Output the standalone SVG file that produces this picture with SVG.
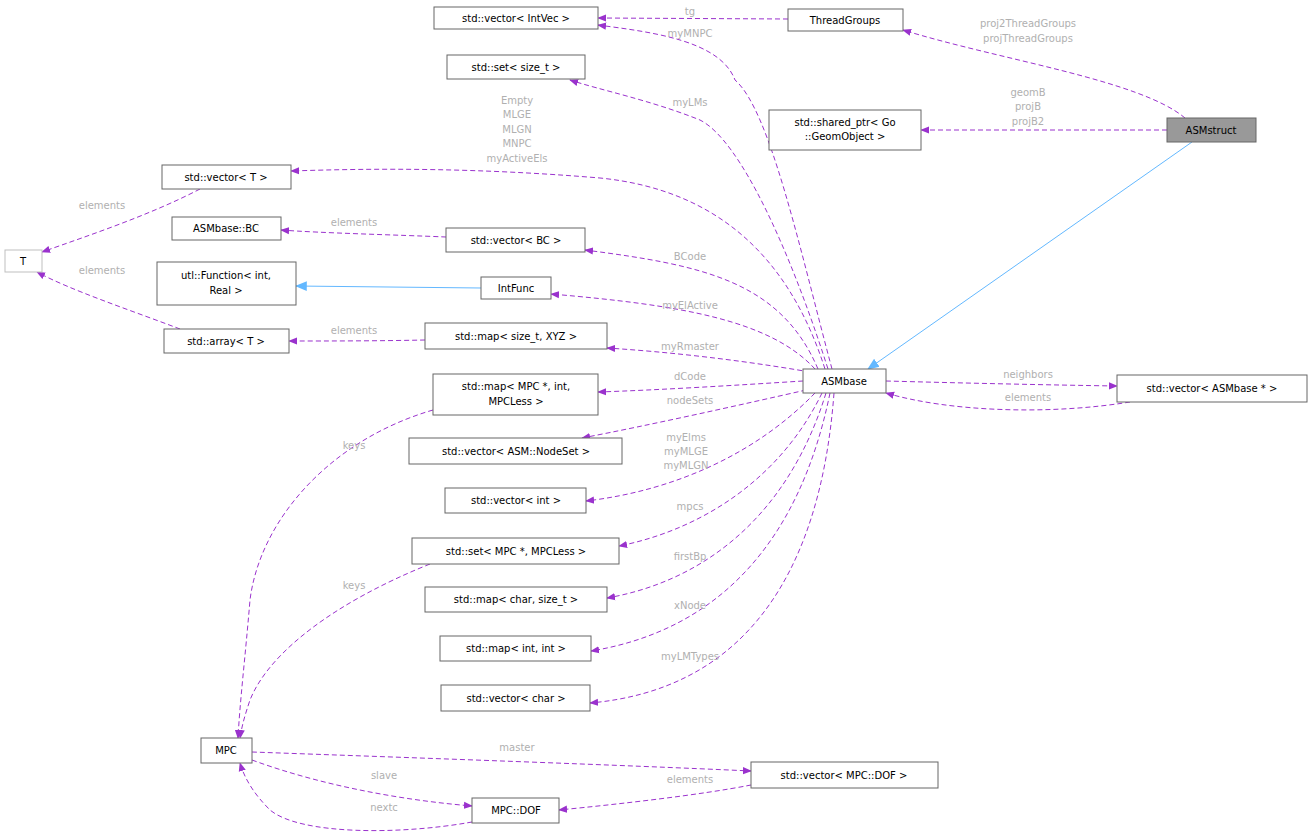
<svg xmlns="http://www.w3.org/2000/svg" width="1313" height="833" viewBox="0 0 1313 833">
<style>
text{font-family:"DejaVu Sans",sans-serif;font-size:10px;text-anchor:middle}
.n rect{fill:#fff;stroke:#666;stroke-width:1}
.n text{fill:#000}
.e path{fill:none;stroke:#9a32cd;stroke-dasharray:5,3}
.e text{fill:#b0b0b0}
.i{fill:none;stroke:#63b8ff}
</style>
<defs>
<marker id="a" viewBox="0 0 10 10" refX="9" refY="5" markerWidth="9" markerHeight="9" orient="auto" markerUnits="userSpaceOnUse"><path d="M0,1L10,5L0,9z" fill="#9a32cd" stroke="none"/></marker>
<marker id="b" viewBox="0 0 10 10" refX="9" refY="5" markerWidth="12" markerHeight="12" orient="auto" markerUnits="userSpaceOnUse"><path d="M0,1L10,5L0,9z" fill="#63b8ff" stroke="none"/></marker>
</defs>
<rect width="1313" height="833" fill="#fff"/>
<g class="e">
<path d="M788,19L598,18" marker-end="url(#a)"/><text x="690" y="15">tg</text>
<path d="M1185,118C1140,80 1000,60 903,30" marker-end="url(#a)"/><text x="1028" y="27">proj2ThreadGroups</text><text x="1028" y="42">projThreadGroups</text>
<path d="M1167,130L921,130" marker-end="url(#a)"/><text x="1028" y="96">geomB</text><text x="1028" y="110">projB</text><text x="1028" y="125">projB2</text>
<path d="M832,369C800,250 770,110 735,80C720,40 650,32 598,25" marker-end="url(#a)"/><text x="690" y="37">myMNPC</text>
<path d="M828,369C790,250 740,140 700,120C650,100 600,90 570,80" marker-end="url(#a)"/><text x="690" y="106">myLMs</text>
<path d="M825,369C790,260 720,190 600,178C480,168 380,168 291,171" marker-end="url(#a)"/><text x="517" y="104">Empty</text><text x="517" y="118">MLGE</text><text x="517" y="133">MLGN</text><text x="517" y="147">MNPC</text><text x="517" y="162">myActiveEls</text>
<path d="M200,189C150,215 90,235 42,252" marker-end="url(#a)"/><text x="102" y="209">elements</text>
<path d="M180,329C130,310 70,290 37,272" marker-end="url(#a)"/><text x="102" y="274">elements</text>
<path d="M446,237C400,235 320,233 281,230" marker-end="url(#a)"/><text x="354" y="226">elements</text>
<path d="M818,369C780,280 700,265 585,250" marker-end="url(#a)"/><text x="690" y="260">BCode</text>
<path d="M815,369C770,320 680,305 551,294" marker-end="url(#a)"/><text x="690" y="309">myElActive</text>
<path d="M425,340C380,341 330,341 289,341" marker-end="url(#a)"/><text x="354" y="334">elements</text>
<path d="M810,372C740,360 670,352 607,348" marker-end="url(#a)"/><text x="690" y="350">myRmaster</text>
<path d="M803,381C740,385 660,390 598,392" marker-end="url(#a)"/><text x="690" y="380">dCode</text>
<path d="M806,390C740,405 650,425 582,438" marker-end="url(#a)"/><text x="690" y="404">nodeSets</text>
<path d="M815,393C760,450 680,490 586,501" marker-end="url(#a)"/><text x="686" y="441">myElms</text><text x="686" y="455">myMLGE</text><text x="686" y="469">myMLGN</text>
<path d="M822,393C780,480 700,530 619,546" marker-end="url(#a)"/><text x="690" y="510">mpcs</text>
<path d="M826,393C790,510 710,580 607,598" marker-end="url(#a)"/><text x="690" y="560">firstBp</text>
<path d="M830,393C800,540 720,630 591,651" marker-end="url(#a)"/><text x="690" y="609">xNode</text>
<path d="M834,393C820,580 740,690 590,703" marker-end="url(#a)"/><text x="690" y="660">myLMTypes</text>
<path d="M886,381C960,383 1050,385 1117,386" marker-end="url(#a)"/><text x="1028" y="378">neighbors</text>
<path d="M1130,402C1050,415 950,412 886,393" marker-end="url(#a)"/><text x="1028" y="401">elements</text>
<path d="M433,410C330,440 260,520 250,600C245,660 240,700 238,738" marker-end="url(#a)"/><text x="354" y="449">keys</text>
<path d="M430,564C340,600 270,650 250,700C245,715 242,725 240,738" marker-end="url(#a)"/><text x="354" y="589">keys</text>
<path d="M252,752C420,758 620,765 751,771" marker-end="url(#a)"/><text x="517" y="751">master</text>
<path d="M252,760C320,785 400,800 472,806" marker-end="url(#a)"/><text x="384" y="779">slave</text>
<path d="M751,785C700,795 620,804 559,810" marker-end="url(#a)"/><text x="690" y="783">elements</text>
<path d="M472,822C400,835 300,835 270,810C255,795 245,780 240,763" marker-end="url(#a)"/><text x="384" y="811">nextc</text>
</g>
<g>
<path class="i" d="M1192,142L868,369" marker-end="url(#b)"/>
<path class="i" d="M481,288L296,286" marker-end="url(#b)"/>
</g>
<g id="vIntVec" class="n"><rect x="434" y="7" width="164" height="22"/><text x="516" y="22">std::vector&lt; IntVec &gt;</text></g>
<g id="ThreadGroups" class="n"><rect x="788" y="9" width="115" height="22"/><text x="845" y="24">ThreadGroups</text></g>
<g id="ASMstruct" class="n"><rect x="1167" y="118" width="89" height="24" style="fill:#999"/><text x="1211" y="134">ASMstruct</text></g>
<g id="sharedptr" class="n"><rect x="769" y="110" width="152" height="40"/><text x="845" y="126">std::shared_ptr&lt; Go</text><text x="845" y="140">::GeomObject &gt;</text></g>
<g id="setsize" class="n"><rect x="447" y="55" width="138" height="24"/><text x="516" y="71">std::set&lt; size_t &gt;</text></g>
<g id="vT" class="n"><rect x="162" y="165" width="129" height="24"/><text x="226" y="181">std::vector&lt; T &gt;</text></g>
<g id="T" class="n"><rect x="5" y="250" width="37" height="22" style="stroke:#bfbfbf"/><text x="23" y="265">T</text></g>
<g id="BC" class="n"><rect x="172" y="217" width="109" height="23"/><text x="226" y="232">ASMbase::BC</text></g>
<g id="vBC" class="n"><rect x="446" y="228" width="139" height="24"/><text x="516" y="244">std::vector&lt; BC &gt;</text></g>
<g id="utlFunc" class="n"><rect x="157" y="262" width="139" height="43"/><text x="226" y="279">utl::Function&lt; int,</text><text x="226" y="294">Real &gt;</text></g>
<g id="IntFunc" class="n"><rect x="481" y="277" width="70" height="22"/><text x="516" y="292">IntFunc</text></g>
<g id="arrT" class="n"><rect x="164" y="329" width="125" height="24"/><text x="226" y="345">std::array&lt; T &gt;</text></g>
<g id="mapXYZ" class="n"><rect x="425" y="323" width="182" height="26"/><text x="516" y="340">std::map&lt; size_t, XYZ &gt;</text></g>
<g id="ASMbase" class="n"><rect x="803" y="369" width="83" height="24"/><text x="844" y="385">ASMbase</text></g>
<g id="vASMbase" class="n"><rect x="1117" y="375" width="190" height="27"/><text x="1212" y="392">std::vector&lt; ASMbase * &gt;</text></g>
<g id="mapMPC" class="n"><rect x="433" y="374" width="165" height="41"/><text x="516" y="390">std::map&lt; MPC *, int,</text><text x="516" y="405">MPCLess &gt;</text></g>
<g id="vNodeSet" class="n"><rect x="409" y="438" width="213" height="26"/><text x="516" y="455">std::vector&lt; ASM::NodeSet &gt;</text></g>
<g id="vint" class="n"><rect x="445" y="488" width="141" height="25"/><text x="516" y="504">std::vector&lt; int &gt;</text></g>
<g id="setMPC" class="n"><rect x="412" y="538" width="207" height="26"/><text x="516" y="555">std::set&lt; MPC *, MPCLess &gt;</text></g>
<g id="mapchar" class="n"><rect x="425" y="587" width="182" height="25"/><text x="516" y="603">std::map&lt; char, size_t &gt;</text></g>
<g id="mapint" class="n"><rect x="440" y="636" width="151" height="25"/><text x="516" y="652">std::map&lt; int, int &gt;</text></g>
<g id="vchar" class="n"><rect x="441" y="685" width="149" height="26"/><text x="516" y="702">std::vector&lt; char &gt;</text></g>
<g id="MPC" class="n"><rect x="201" y="738" width="51" height="25"/><text x="226" y="754">MPC</text></g>
<g id="vDOF" class="n"><rect x="751" y="762" width="187" height="26"/><text x="844" y="779">std::vector&lt; MPC::DOF &gt;</text></g>
<g id="DOF" class="n"><rect x="472" y="798" width="87" height="25"/><text x="516" y="814">MPC::DOF</text></g>
</svg>
